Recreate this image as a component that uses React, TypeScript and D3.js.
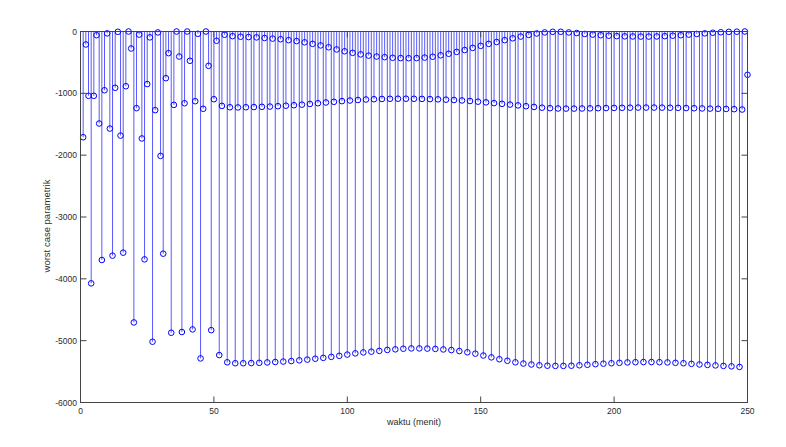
import React, { useEffect, useRef } from 'react';
import * as d3 from 'd3';

// worst case values, minute 1..52 (irregular start)
const startValues = [
  -1710, -210, -1040, -4073, -1040, -60, -1488, -3695, -950, -30,
  -1570, -3625, -910, -5, -1683, -3577, -885, 0, -275, -4705,
  -1240, -50, -1730, -3685, -850, -95, -5017, -1272, -15, -2012,
  -3593, -755, -350, -4872, -1187, 0, -405, -4860, -1160, 0,
  -474, -4818, -1127, -37, -5287, -1250, 0, -555, -4830, -1095,
  -150, -5233
];

// steady part: three interleaved sequences, every 3 minutes
// minute 53, 56, ..., 248
const midBand = [
  -1203, -1225, -1228, -1225, -1222, -1218, -1214, -1208, -1200, -1192,
  -1183, -1172, -1160, -1148, -1137, -1126, -1116, -1108, -1100, -1095,
  -1091, -1088, -1087, -1087, -1088, -1090, -1093, -1097, -1102, -1108,
  -1115, -1124, -1135, -1146, -1158, -1170, -1182, -1195, -1208, -1220,
  -1232, -1240, -1245, -1247, -1247, -1245, -1243, -1240, -1238, -1236,
  -1234, -1232, -1230, -1230, -1230, -1231, -1233, -1235, -1238, -1241,
  -1244, -1247, -1250, -1253, -1256, -1262
];
// minute 54, 57, ..., 249
const topBand = [
  -53, -75, -85, -90, -95, -105, -115, -125, -140, -155,
  -175, -200, -225, -255, -290, -320, -345, -370, -390, -405,
  -415, -425, -430, -432, -430, -422, -408, -385, -360, -330,
  -300, -265, -232, -200, -170, -140, -110, -82, -55, -32,
  -15, -5, -5, -15, -25, -40, -50, -60, -68, -75,
  -78, -80, -82, -82, -80, -75, -68, -60, -50, -40,
  -30, -20, -12, -6, -3, 0
];
// minute 55, 58, ..., 247
const lowBand = [
  -5350, -5365, -5365, -5362, -5358, -5352, -5345, -5338, -5330, -5318,
  -5306, -5292, -5278, -5262, -5245, -5225, -5205, -5190, -5178, -5165,
  -5150, -5140, -5130, -5125, -5125, -5128, -5133, -5142, -5152, -5168,
  -5188, -5210, -5240, -5270, -5300, -5325, -5350, -5370, -5385, -5398,
  -5405, -5408, -5408, -5405, -5398, -5390, -5380, -5372, -5365, -5358,
  -5352, -5348, -5346, -5346, -5348, -5352, -5358, -5365, -5375, -5385,
  -5392, -5400, -5408, -5415, -5425
];
const endValue = -700; // minute 250

const xTicks = [0, 50, 100, 150, 200, 250];
const yTicks = [0, -1000, -2000, -3000, -4000, -5000, -6000];

type Pt = { t: number; v: number };

function buildPoints(): Pt[] {
  const pts: Pt[] = [];
  startValues.forEach((v, i) => pts.push({ t: i + 1, v }));
  midBand.forEach((v, i) => pts.push({ t: 53 + 3 * i, v }));
  topBand.forEach((v, i) => pts.push({ t: 54 + 3 * i, v }));
  lowBand.forEach((v, i) => pts.push({ t: 55 + 3 * i, v }));
  pts.push({ t: 250, v: endValue });
  return pts.sort((a, b) => a.t - b.t);
}

function StemChart() {
  const svgRef = useRef<SVGSVGElement>(null);

  useEffect(() => {
    const svg = d3.select(svgRef.current);
    svg.selectAll('*').remove();

    const width = 786;
    const height = 447;
    const margin = { top: 31.5, right: 38.5, bottom: 44.5, left: 80.5 };
    const innerWidth = width - margin.left - margin.right;
    const innerHeight = height - margin.top - margin.bottom;
    const font = '"Liberation Sans", Arial, sans-serif';
    const ink = '#2b2b2b';
    const stemColor = '#0000ff';

    svg.append('rect')
      .attr('width', width)
      .attr('height', height)
      .attr('fill', '#ffffff');

    const g = svg.append('g')
      .attr('transform', `translate(${margin.left},${margin.top})`);

    const x = d3.scaleLinear().domain([0, 250]).range([0, innerWidth]);
    const y = d3.scaleLinear().domain([-6000, 0]).range([innerHeight, 0]);

    const points = buildPoints();

    // stems
    g.append('g')
      .selectAll('line')
      .data(points)
      .join('line')
      .attr('x1', d => x(d.t))
      .attr('x2', d => x(d.t))
      .attr('y1', y(0))
      .attr('y2', d => y(d.v))
      .attr('stroke', stemColor)
      .attr('stroke-width', 1)
      .attr('stroke-opacity', 0.65);

    // markers
    g.append('g')
      .selectAll('circle')
      .data(points)
      .join('circle')
      .attr('cx', d => x(d.t))
      .attr('cy', d => y(d.v))
      .attr('r', 2.8)
      .attr('fill', 'none')
      .attr('stroke', stemColor)
      .attr('stroke-width', 1);

    // baseline
    g.append('line')
      .attr('x1', 0)
      .attr('x2', innerWidth)
      .attr('y1', y(0))
      .attr('y2', y(0))
      .attr('stroke', '#000')
      .attr('stroke-width', 1);

    // box
    g.append('rect')
      .attr('width', innerWidth)
      .attr('height', innerHeight)
      .attr('fill', 'none')
      .attr('stroke', '#444')
      .attr('stroke-width', 1);

    const tickLen = 6;

    // x ticks (inside, bottom and top)
    xTicks.forEach(t => {
      g.append('line')
        .attr('x1', x(t)).attr('x2', x(t))
        .attr('y1', innerHeight).attr('y2', innerHeight - tickLen)
        .attr('stroke', '#444');
      g.append('line')
        .attr('x1', x(t)).attr('x2', x(t))
        .attr('y1', 0).attr('y2', tickLen)
        .attr('stroke', '#444');
      g.append('text')
        .attr('x', x(t))
        .attr('y', innerHeight + 11)
        .attr('text-anchor', 'middle')
        .attr('font-family', font)
        .attr('font-size', '8.5px')
        .attr('fill', ink)
        .text(t);
    });

    // y ticks (inside, left and right)
    yTicks.forEach(t => {
      g.append('line')
        .attr('x1', 0).attr('x2', tickLen)
        .attr('y1', y(t)).attr('y2', y(t))
        .attr('stroke', '#444');
      g.append('line')
        .attr('x1', innerWidth).attr('x2', innerWidth - tickLen)
        .attr('y1', y(t)).attr('y2', y(t))
        .attr('stroke', '#444');
      g.append('text')
        .attr('x', -3.5)
        .attr('y', y(t) + 3)
        .attr('text-anchor', 'end')
        .attr('font-family', font)
        .attr('font-size', '8.5px')
        .attr('fill', ink)
        .text(t);
    });

    // axis labels
    svg.append('text')
      .attr('x', margin.left + innerWidth / 2)
      .attr('y', 424.5)
      .attr('text-anchor', 'middle')
      .attr('font-family', font)
      .attr('font-size', '9px')
      .attr('fill', ink)
      .text('waktu (menit)');

    svg.append('text')
      .attr('transform', `translate(50,226) rotate(-90)`)
      .attr('text-anchor', 'middle')
      .attr('font-family', font)
      .attr('font-size', '9.5px')
      .attr('fill', ink)
      .text('worst case parametrik');
  }, []);

  return (
    <svg
      ref={svgRef}
      width={786}
      height={447}
      style={{ position: 'absolute', left: 0, top: 0, display: 'block' }}
    />
  );
}

export default function App() {
  return <StemChart />;
}
